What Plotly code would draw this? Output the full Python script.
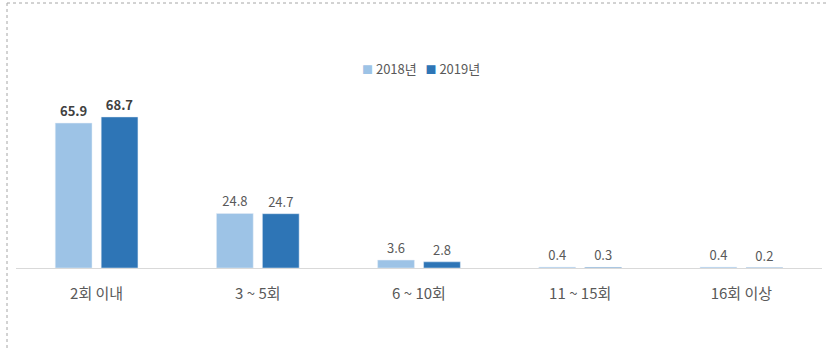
import plotly.graph_objects as go

categories = ["2회 이내", "3 ~ 5회", "6 ~ 10회", "11 ~ 15회", "16회 이상"]
series_names = ["2018년", "2019년"]
values_2018 = [65.9, 24.8, 3.6, 0.4, 0.4]
values_2019 = [68.7, 24.7, 2.8, 0.3, 0.2]

colors = ["#9DC3E6", "#2E75B6"]
FONT = "Noto Sans CJK KR"

def label_fonts(vals):
    return dict(
        size=13,
        family=FONT,
        color=["#404040" if v > 50 else "#595959" for v in vals],
        weight=[700 if v > 50 else 400 for v in vals],
    )

fig = go.Figure()
for name, vals, col in zip(series_names, [values_2018, values_2019], colors):
    fig.add_trace(go.Bar(
        x=categories, y=vals, name=name, marker_color=col,
        text=[f"{v:.1f}" for v in vals], textposition="outside",
        textfont=label_fonts(vals), cliponaxis=False, showlegend=False,
    ))

W, H = 827, 350
L, R, T, B = 16, 5, 100, 82
pw = W - L - R
ph = H - T - B

def px_x(x):
    return (x - L) / pw

def px_y(y):
    return (H - B - y) / ph

# custom legend built from series names and colours
legend_text = "   ".join(
    f"<span style='color:{c}; font-size:11px'>■</span> {n}" for n, c in zip(series_names, colors)
)

fig.update_layout(
    width=W, height=H,
    margin=dict(l=L, r=R, t=T, b=B),
    paper_bgcolor="white", plot_bgcolor="white",
    barmode="group", bargap=0.43, bargroupgap=0.2,
    font=dict(family=FONT, color="#595959"),
    xaxis=dict(showgrid=False, showline=True, linecolor="#D9D9D9", linewidth=1,
               ticks="", tickfont=dict(size=15, color="#595959", family=FONT),
               ticklabelstandoff=12, zeroline=False),
    yaxis=dict(range=[0, 76.4], visible=False, showgrid=False, zeroline=False),
    annotations=[
        dict(text=legend_text, xref="paper", yref="paper", x=px_x(421), y=px_y(68),
             xanchor="center", yanchor="middle", showarrow=False,
             font=dict(size=13, color="#595959", family=FONT)),
    ],
    shapes=[
        dict(type="line", xref="paper", yref="paper", x0=px_x(7), x1=px_x(7),
             y0=px_y(3), y1=px_y(352), line=dict(color="#A6A6A6", width=1, dash="dot")),
        dict(type="line", xref="paper", yref="paper", x0=px_x(7), x1=px_x(830),
             y0=px_y(3), y1=px_y(3), line=dict(color="#A6A6A6", width=1, dash="dot")),
    ],
)

fig.write_html("out.html", config={"displayModeBar": False},
               post_script="document.body.style.margin='0';")
